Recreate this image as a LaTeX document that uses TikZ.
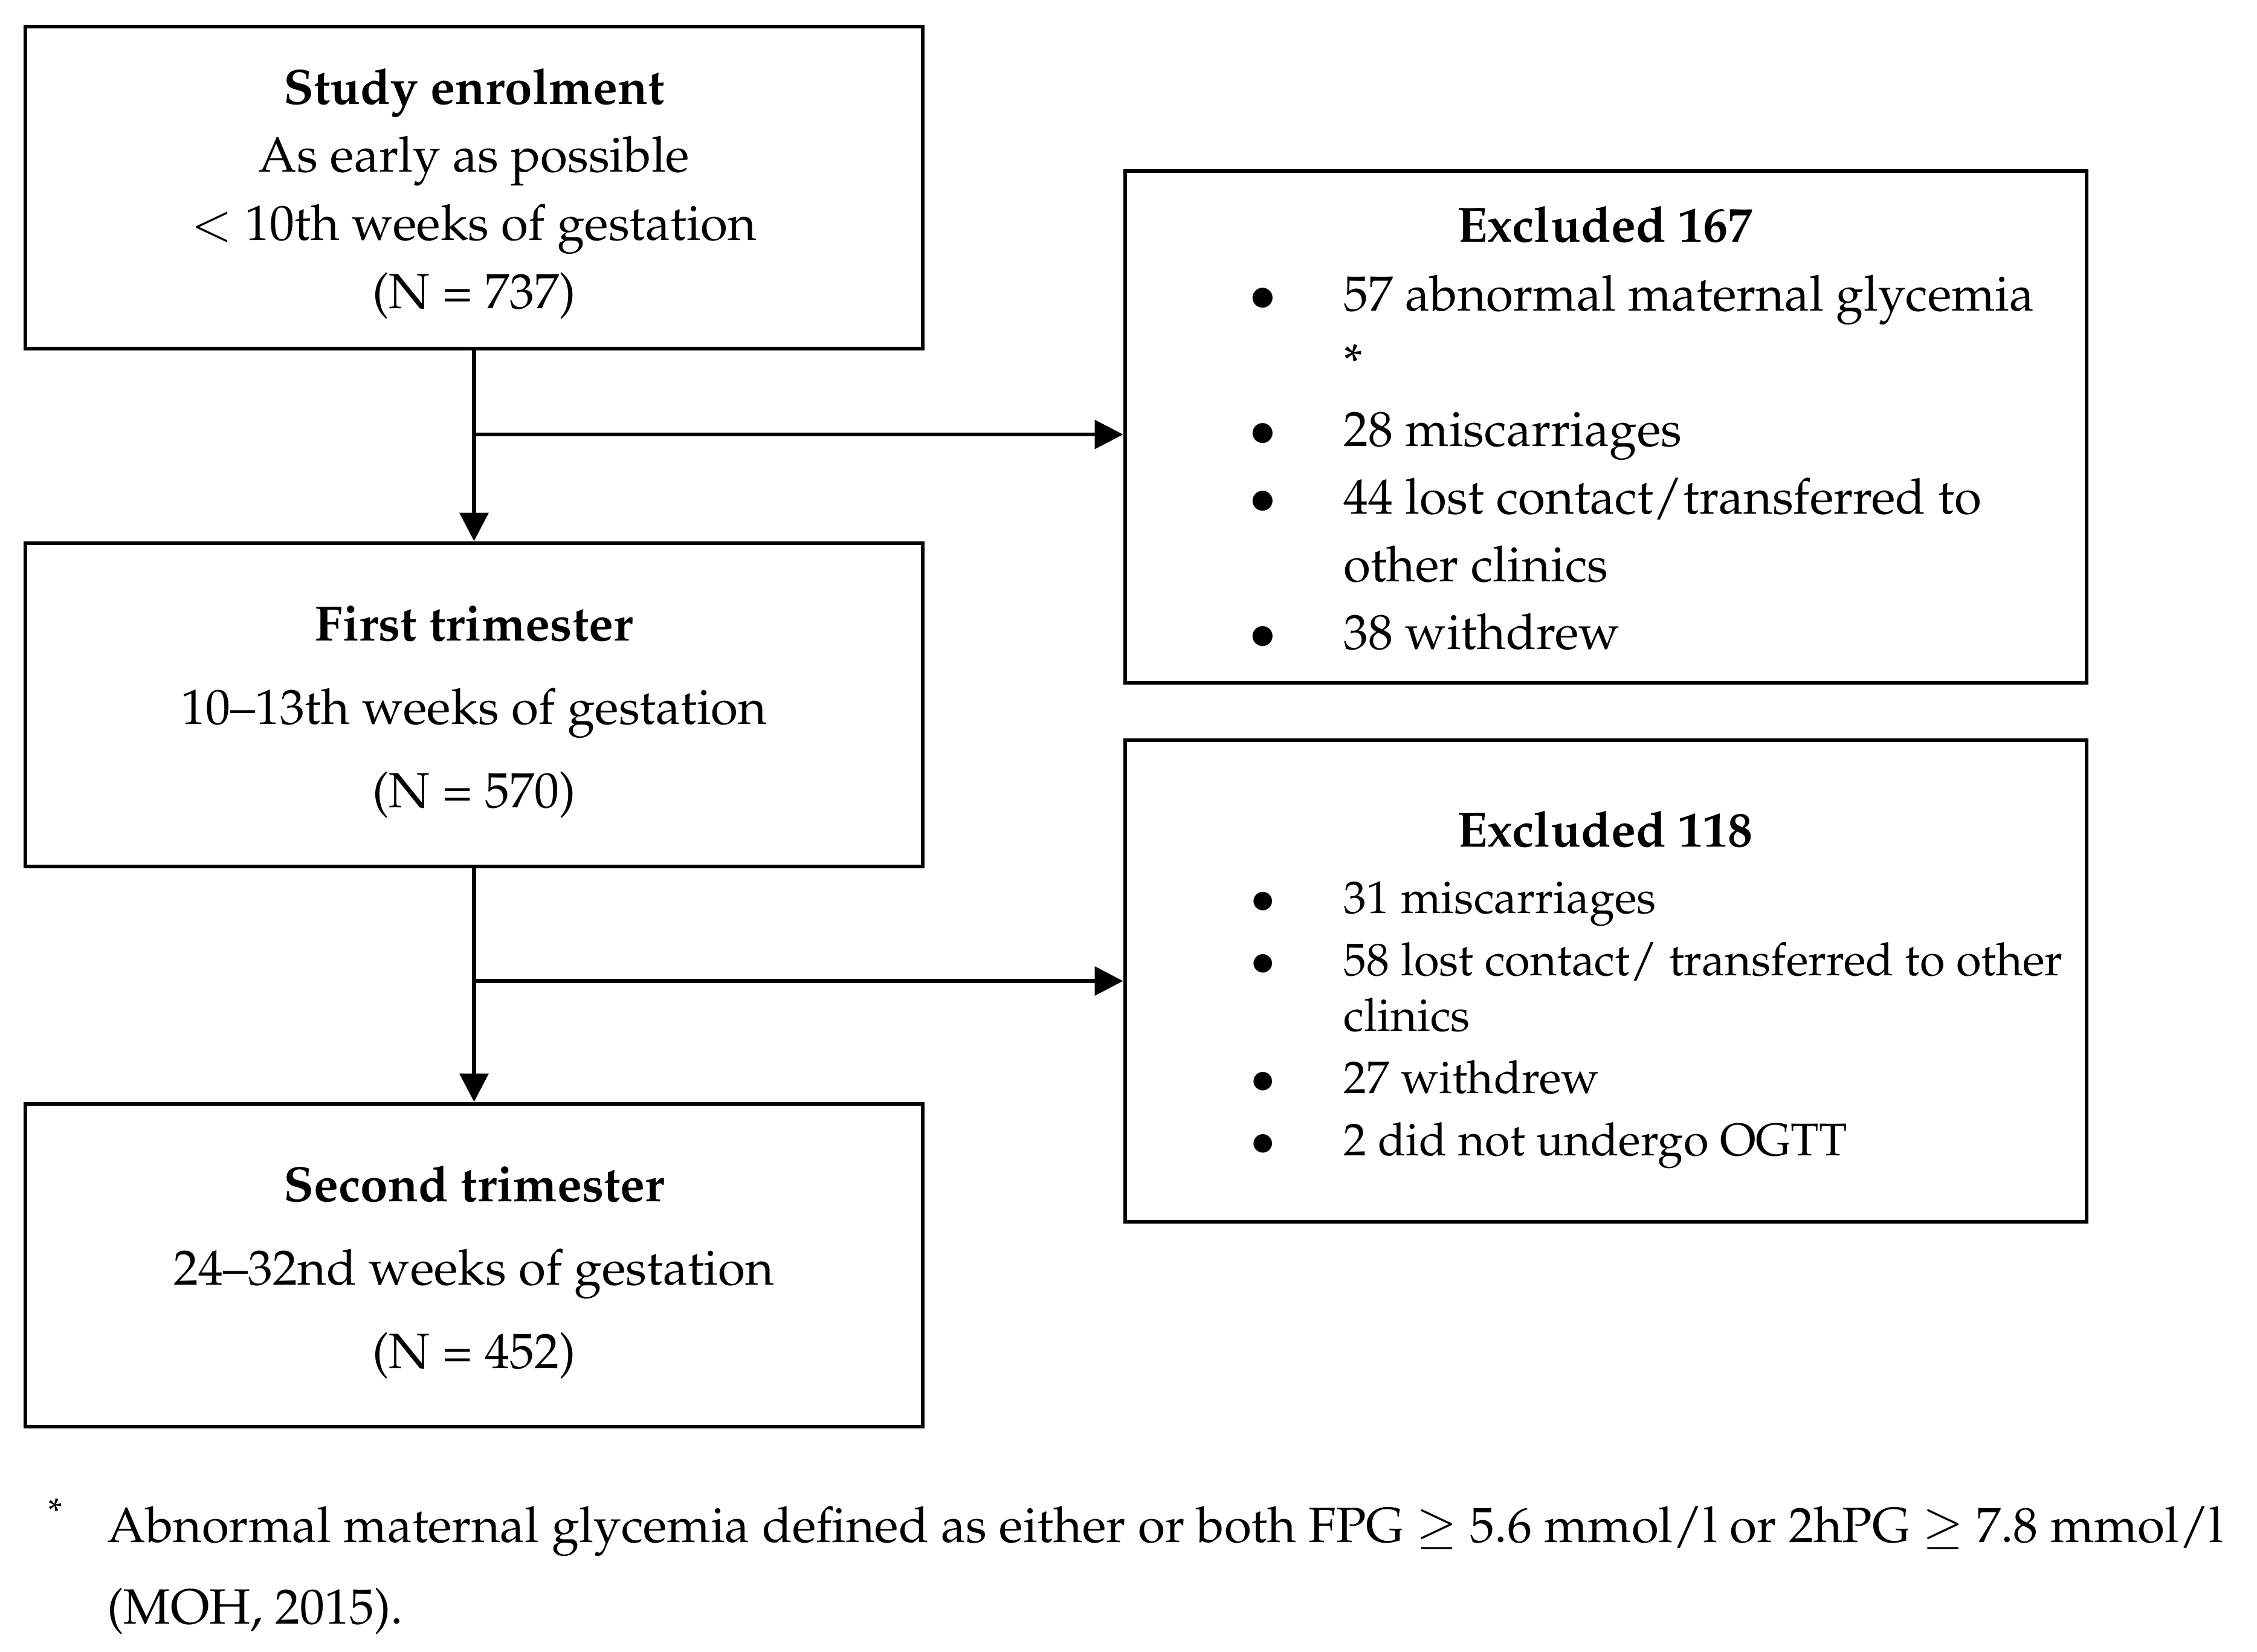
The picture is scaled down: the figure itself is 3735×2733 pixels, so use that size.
\documentclass[tikz,border=0pt]{standalone}
\usepackage[T1]{fontenc}
\usepackage{mathpazo}
\usetikzlibrary{arrows.meta}
\def\upx{0.1465pt}
\tikzset{
  box/.style={draw, rectangle, line width=1pt, inner sep=0pt},
  txt/.style={inner sep=0pt, anchor=base, font=\fontsize{12}{14}\selectfont},
  ltxt/.style={txt, anchor=base west},
  stxt/.style={txt, font=\fontsize{11.1}{13}\selectfont},
  sltxt/.style={stxt, anchor=base west},
  conn/.style={line width=1pt, -{Triangle[length=6.9pt,width=6.9pt]}}
}
\begin{document}
\begin{tikzpicture}[x=0.1465pt,y=-0.1465pt]
\fill[white] (0,0) rectangle (3735,2733);
\useasboundingbox (0,0) rectangle (3735,2733);
% left boxes
\node[box, minimum width=1485*\upx, minimum height=533*\upx] (b1) at (784.5,310.5) {};
\node[box, minimum width=1485*\upx, minimum height=535*\upx] (b2) at (784.5,1166.5) {};
\node[box, minimum width=1485*\upx, minimum height=534*\upx] (b3) at (784.5,2094) {};
% right boxes
\node[box, minimum width=1591*\upx, minimum height=847*\upx] (e1) at (2657.5,706.5) {};
\node[box, minimum width=1591*\upx, minimum height=797*\upx] (e2) at (2657.5,1623.5) {};
% connectors
\draw[conn] (b1.south) -- (b2.north);
\draw[conn] (b2.south) -- (b3.north);
\coordinate (j1) at (784.5,719);
\coordinate (j2) at (784.5,1623.5);
\draw[conn] (j1) -- (j1 -| e1.west);
\draw[conn] (j2) -- (e2.west);
% box 1 text
\node[txt] (b1a) at (784.5,172) {\textbf{Study enrolment}};
\node[txt] (b1b) at (784.5,284) {As early as possible};
\node[txt] (b1c) at (784.5,397) {$<$ 10th weeks of gestation};
\node[txt] (b1d) at (784.5,510) {(N = 737)};
% box 2 text
\node[txt] (b2a) at (784.5,1060) {\textbf{First trimester}};
\node[txt] (b2b) at (784.5,1198) {10--13th weeks of gestation};
\node[txt] (b2c) at (784.5,1336) {(N = 570)};
% box 3 text
\node[txt] (b3a) at (784.5,1988) {\textbf{Second trimester}};
\node[txt] (b3b) at (784.5,2126) {24--32nd weeks of gestation};
\node[txt] (b3c) at (784.5,2264) {(N = 452)};
% excluded 1
\node[txt] (e1h) at (2656,400) {\textbf{Excluded 167}};
\node[txt] (e1p1) at (2090,514) {$\bullet$};
\node[ltxt] (e1t1) at (2222,514) {57 abnormal maternal glycemia};
\node[ltxt] (e1t1b) at (2222,626) {*};
\node[txt] (e1p2) at (2090,738) {$\bullet$};
\node[ltxt] (e1t2) at (2222,738) {28 miscarriages};
\node[txt] (e1p3) at (2090,850) {$\bullet$};
\node[ltxt] (e1t3) at (2222,850) {44 lost contact/transferred to};
\node[ltxt] (e1t3b) at (2222,962) {other clinics};
\node[txt] (e1p4) at (2090,1074) {$\bullet$};
\node[ltxt] (e1t4) at (2222,1074) {38 withdrew};
% excluded 2
\node[txt] (e2h) at (2656,1401) {\textbf{Excluded 118}};
\node[stxt] (e2p1) at (2090,1511) {$\bullet$};
\node[sltxt] (e2t1) at (2222,1511) {31 miscarriages};
\node[stxt] (e2p2) at (2090,1614) {$\bullet$};
\node[sltxt] (e2t2) at (2222,1614) {58 lost contact/ transferred to other};
\node[sltxt] (e2t2b) at (2222,1706) {clinics};
\node[stxt] (e2p3) at (2090,1809) {$\bullet$};
\node[sltxt] (e2t3) at (2222,1809) {27 withdrew};
\node[stxt] (e2p4) at (2090,1912) {$\bullet$};
\node[sltxt] (e2t4) at (2222,1912) {2 did not undergo OGTT};
% footnote
\node[txt] (fs) at (93,2552) {\textsuperscript{*}};
\node[ltxt] (f1) at (176,2552) {Abnormal maternal glycemia defined as either or both FPG $\geq$ 5.6 mmol/l or 2hPG $\geq$ 7.8 mmol/l};
\node[ltxt] (f2) at (176,2687) {(MOH, 2015).};
\end{tikzpicture}
\end{document}
